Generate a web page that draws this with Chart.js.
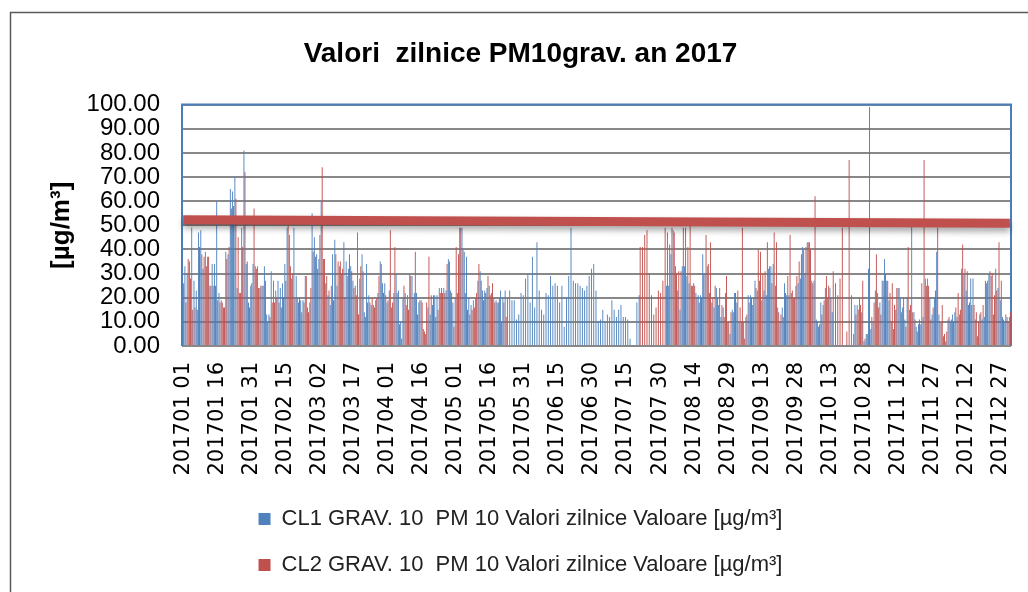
<!DOCTYPE html>
<html>
<head>
<meta charset="utf-8">
<script src="https://cdn.jsdelivr.net/npm/chart.js@4.4.1/dist/chart.umd.min.js"></script>
<style>
  html, body { margin: 0; padding: 0; background: #fff; overflow: hidden; }
  canvas { display: block; }
</style>
</head>
<body>
<canvas id="chart" width="1028" height="592"></canvas>
<script>
// daily PM10 values, 2017 (one entry per day, null = no measurement)
const cl1Values = [
    24,33,30,35,49,27,23,47,48,32,39,37,25,34,34,
    60,22,19,16,39,38,65,64,70,24,22,49,81,34,18,
    25,34,33,33,24,25,33,13,13,31,27,23,27,24,26,
    34,49,46,28,49,29,18,19,19,29,16,18,55,45,38,
    36,60,36,26,21,17,38,44,25,33,30,43,35,32,33,
    27,25,47,28,38,14,34,21,17,17,19,22,35,26,26,
    18,23,16,22,30,23,10,20,22,21,30,29,22,22,18,
    19,7,5,16,13,17,21,21,24,24,24,23,36,23,18,
    20,22,49,49,39,37,20,17,19,20,27,31,23,23,24,
    25,22,20,19,18,23,20,23,20,23,19,19,11,13,22,
    21,28,30,18,37,16,43,23,15,13,22,21,29,25,26,
    25,18,25,8,20,29,49,27,26,26,25,24,23,25,29,
    32,34,23,10,11,15,10,13,12,19,15,12,15,17,12,
    12,11,3,null,null,18,21,null,null,null,null,null,null,null,null,
    null,null,null,25,25,38,48,33,23,15,33,33,29,26,25,
    26,22,21,21,38,30,33,22,18,16,24,17,12,16,22,
    10,5,15,22,18,10,10,10,12,21,21,17,27,23,27,
    19,23,21,32,33,34,25,16,10,16,26,21,21,22,20,
    25,26,28,41,30,43,43,27,27,11,8,18,17,24,20,
    24,14,null,null,null,null,null,null,null,null,null,17,17,20,14,
    2,5,32,7,10,23,22,18,27,36,27,19,10,7,15,
    24,20,16,11,20,15,50,14,8,9,9,12,28,28,20,
    13,20,39,13,10,4,2,11,10,13,14,12,13,32,30,
    23,17,28,28,11,4,13,11,12,26,30,29,13,32,24,
    19,12,10,12,12
];

const cl2Values = [
    26,18,36,28,15,16,15,41,38,37,33,37,25,25,25,
    19,18,18,16,36,41,57,58,61,45,22,41,72,35,16,
    26,57,32,24,25,25,27,10,12,18,18,20,18,16,20,
    27,50,33,30,20,20,20,14,18,29,14,24,39,37,32,
    46,74,36,29,23,25,19,38,35,35,32,20,29,38,31,
    24,21,13,33,31,12,18,18,20,16,20,29,34,22,21,
    19,48,18,41,22,9,3,25,17,15,29,20,39,13,19,
    18,6,18,37,21,21,12,15,22,22,22,34,35,22,8,
    41,38,49,40,22,15,13,15,16,22,34,27,19,22,29,
    21,26,18,18,20,10,18,12,null,null,null,null,null,null,null,
    null,null,null,null,null,null,null,null,null,null,null,null,null,null,null,
    null,null,null,null,null,null,null,null,null,null,null,null,null,null,null,
    null,null,null,null,null,null,null,null,null,null,null,null,null,null,null,
    null,null,null,null,null,null,41,41,46,48,30,21,13,16,23,
    22,27,49,47,42,49,47,30,31,31,49,49,41,50,25,
    25,20,18,20,30,46,34,43,20,25,20,24,17,12,29,
    10,14,14,22,23,16,49,3,13,18,20,20,24,40,39,
    30,31,43,33,26,47,43,14,13,12,22,29,46,23,20,
    29,35,38,40,41,43,40,26,62,10,9,13,19,29,25,
    20,31,26,21,28,49,null,6,77,21,5,13,15,17,27,
    3,5,99,12,18,38,16,13,27,30,27,22,26,17,24,
    24,14,20,8,41,17,14,11,6,11,26,77,25,25,11,
    16,23,49,10,17,5,6,12,11,10,16,22,15,42,32,
    31,18,17,17,14,10,14,17,27,27,31,30,21,23,43,
    27,11,13,10,14
];

// hand-drawn limit bar in the original: start / end levels
const limitStart = 52.3;
const limitEnd = 50.9;

const seriesNames = [
    'CL1 GRAV. 10  PM 10 Valori zilnice Valoare [µg/m³]',
    'CL2 GRAV. 10  PM 10 Valori zilnice Valoare [µg/m³]'
];

// categories: every day of 2017 as "YYYYMM DD"
const pad = n => String(n).padStart(2, '0');
const days = [];
for (let d = new Date(Date.UTC(2017, 0, 1)); d.getUTCFullYear() === 2017; d.setUTCDate(d.getUTCDate() + 1)) {
    days.push('2017' + pad(d.getUTCMonth() + 1) + ' ' + pad(d.getUTCDate()));
}

const limitLine = days.map(() => null);
limitLine[0] = limitStart;
limitLine[days.length - 1] = limitEnd;

const BLUE = '#4F81BD';
const RED = '#C0504D';

const chromePlugin = {
    id: 'chrome',
    beforeDraw(chart) {
        const { ctx } = chart;
        ctx.save();
        ctx.fillStyle = '#fff';
        ctx.fillRect(0, 0, chart.width, chart.height);
        ctx.strokeStyle = '#595959';
        ctx.lineWidth = 1.5;
        ctx.beginPath();
        ctx.moveTo(10.5, chart.height + 5);
        ctx.lineTo(10.5, 12.5);
        ctx.lineTo(chart.width + 5, 12.5);
        ctx.stroke();
        ctx.restore();
    },
    beforeDatasetsDraw(chart) {
        const { ctx, chartArea: a } = chart;
        ctx.save();
        ctx.strokeStyle = '#4A7EBB';
        ctx.lineWidth = 2;
        ctx.beginPath();
        ctx.moveTo(a.left, a.bottom);
        ctx.lineTo(a.left, a.top);
        ctx.lineTo(a.right, a.top);
        ctx.lineTo(a.right, a.bottom);
        ctx.stroke();
        ctx.restore();
    },
    beforeDatasetDraw(chart, args) {
        if (args.index !== 2) return;
        const ctx = chart.ctx;
        ctx.save();
        ctx.shadowColor = 'rgba(0,0,0,0.35)';
        ctx.shadowBlur = 6;
        ctx.shadowOffsetY = 4;
    },
    afterDatasetDraw(chart, args) {
        if (args.index !== 2) return;
        chart.ctx.restore();
    }
};

new Chart(document.getElementById('chart'), {
    type: 'bar',
    data: {
        labels: days,
        datasets: [
            {
                label: seriesNames[0],
                data: cl1Values,
                backgroundColor: BLUE,
                borderWidth: 0,
                barPercentage: 0.9,
                categoryPercentage: 0.9
            },
            {
                label: seriesNames[1],
                data: cl2Values,
                backgroundColor: RED,
                borderWidth: 0,
                barPercentage: 0.9,
                categoryPercentage: 0.9
            },
            {
                type: 'line',
                label: 'limit',
                data: limitLine,
                borderColor: RED,
                borderWidth: 9,
                pointRadius: 0,
                spanGaps: true,
                order: -1
            }
        ]
    },
    options: {
        responsive: false,
        animation: false,
        layout: { padding: { left: 30, right: 17, top: 0, bottom: 6 } },
        plugins: {
            title: {
                display: true,
                text: 'Valori  zilnice PM10grav. an 2017',
                color: '#000',
                font: { family: 'Liberation Sans', size: 28, weight: 'bold' },
                padding: { top: 37, bottom: 34 }
            },
            legend: {
                position: 'bottom',
                labels: {
                    color: '#222',
                    font: { family: 'Liberation Sans', size: 22 },
                    boxWidth: 12,
                    boxHeight: 12,
                    padding: 24,
                    filter: item => item.datasetIndex < 2
                }
            },
            tooltip: { enabled: false }
        },
        scales: {
            x: {
                grid: { display: false },
                border: { display: false },
                ticks: {
                    autoSkip: false,
                    minRotation: 90,
                    maxRotation: 90,
                    padding: 8,
                    color: '#000',
                    font: { family: 'DejaVu Sans', size: 21 },
                    callback(value, index) {
                        return index % 15 === 0 ? this.getLabelForValue(value) : null;
                    }
                },
                afterFit(scale) {
                    scale.height = 138;
                    scale.paddingLeft = 0;
                    scale.paddingRight = 0;
                }
            },
            y: {
                min: 0,
                max: 100,
                ticks: {
                    autoSkip: false,
                    stepSize: 10,
                    padding: 22,
                    color: '#000',
                    font: { family: 'Liberation Sans', size: 24 },
                    callback: v => v.toFixed(2)
                },
                grid: { color: '#888', lineWidth: 2, drawTicks: false },
                border: { display: false },
                title: {
                    display: true,
                    text: '[µg/m³]',
                    color: '#000',
                    font: { family: 'Liberation Sans', size: 26, weight: 'bold' },
                    padding: { top: 16, bottom: 0 }
                },
                afterFit(scale) { scale.width = 152; }
            }
        }
    },
    plugins: [chromePlugin]
});
</script>
</body>
</html>
